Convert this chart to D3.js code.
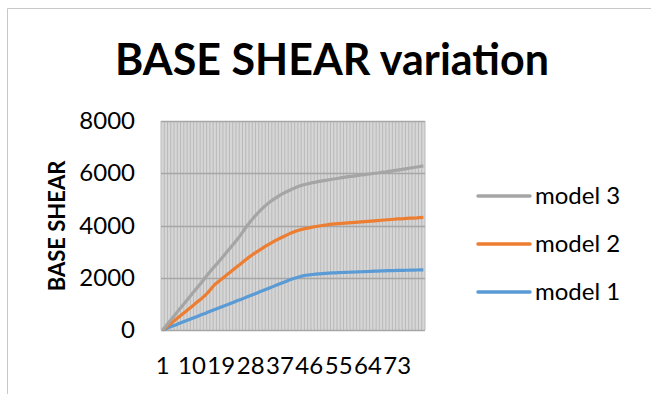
<!DOCTYPE html>
<html>
<head>
<meta charset="utf-8">
<script src="https://cdn.jsdelivr.net/npm/d3@7"></script>
<style>
  html, body { margin: 0; padding: 0; background: #fff; }
  svg { display: block; }
  text { font-family: Lato, "Open Sans", sans-serif; fill: #000; }
</style>
</head>
<body>
<svg id="chart" width="651" height="394"></svg>
<script>
// Step numbers along the x axis (1..81)
const categories = d3.range(1, 82);
const xTickLabels = [1, 10, 19, 28, 37, 46, 55, 64, 73];
const yTicks = [0, 2000, 4000, 6000, 8000];

const model1 = [0, 50, 100, 150, 195, 245, 295, 345, 390, 440,
  490, 540, 590, 635, 685, 735, 785, 830, 880, 930,
  975, 1025, 1075, 1125, 1170, 1220, 1270, 1320, 1370, 1420,
  1470, 1520, 1570, 1620, 1670, 1720, 1770, 1820, 1870, 1920,
  1960, 2000, 2040, 2070, 2095, 2110, 2125, 2140, 2150, 2160,
  2170, 2180, 2185, 2190, 2195, 2200, 2205, 2210, 2215, 2220,
  2225, 2230, 2235, 2240, 2245, 2250, 2255, 2260, 2265, 2270,
  2273, 2276, 2279, 2282, 2285, 2288, 2291, 2294, 2297, 2300, 2303];

const model2 = [0, 100, 200, 300, 400, 500, 600, 700, 800, 900,
  1010, 1110, 1210, 1320, 1450, 1600, 1740, 1840, 1940, 2040,
  2140, 2240, 2340, 2440, 2540, 2640, 2740, 2830, 2920, 3000,
  3080, 3160, 3240, 3310, 3380, 3450, 3510, 3570, 3630, 3690,
  3740, 3790, 3830, 3860, 3890, 3910, 3940, 3960, 3980, 4000,
  4020, 4040, 4050, 4060, 4070, 4080, 4090, 4100, 4110, 4120,
  4130, 4140, 4150, 4160, 4170, 4180, 4190, 4200, 4210, 4220,
  4230, 4240, 4250, 4255, 4260, 4270, 4280, 4285, 4290, 4300, 4310];

const model3 = [0, 150, 310, 460, 610, 770, 920, 1070, 1220, 1380,
  1530, 1680, 1830, 1990, 2150, 2300, 2440, 2580, 2730, 2880,
  3030, 3180, 3330, 3480, 3650, 3830, 4000, 4160, 4310, 4450,
  4580, 4700, 4810, 4910, 5000, 5080, 5160, 5230, 5290, 5350,
  5410, 5460, 5510, 5550, 5580, 5610, 5640, 5660, 5690, 5710,
  5730, 5750, 5770, 5790, 5810, 5830, 5850, 5870, 5880, 5900,
  5920, 5940, 5950, 5970, 5980, 6000, 6010, 6030, 6040, 6060,
  6080, 6100, 6120, 6140, 6160, 6180, 6200, 6220, 6240, 6260, 6280];

const seriesNames = ["model 1", "model 2", "model 3"];
const seriesColors = ["#5B9BD5", "#ED7D31", "#A5A5A5"];
const seriesData = [model1, model2, model3];

const svg = d3.select("#chart");

// chart frame
svg.append("path")
  .attr("d", "M7.5,394 V8.5 H651")
  .attr("fill", "none")
  .attr("stroke", "#c8c8c8")
  .attr("stroke-width", 1);

const plot = { left: 161, right: 425, top: 121, bottom: 330 };

const x = d3.scaleBand().domain(categories).range([plot.left, plot.right]).padding(0);
const y = d3.scaleLinear().domain([0, 8000]).range([plot.bottom, plot.top]);
const cx = d => x(d) + x.bandwidth() / 2;

// plot area background
svg.append("rect")
  .attr("x", plot.left).attr("y", plot.top)
  .attr("width", plot.right - plot.left).attr("height", plot.bottom - plot.top)
  .attr("fill", "#d6d6d6");

// vertical gridlines at category boundaries
const vBounds = categories.map(c => x(c)).concat([plot.right]);
svg.append("g").selectAll("line").data(vBounds).join("line")
  .attr("x1", d => d).attr("x2", d => d)
  .attr("y1", plot.top).attr("y2", plot.bottom)
  .attr("stroke", "#b9b9b9").attr("stroke-width", 1);

// horizontal gridlines
svg.append("g").selectAll("line").data(yTicks.filter(t => t > 0)).join("line")
  .attr("x1", plot.left).attr("x2", plot.right)
  .attr("y1", d => Math.round(y(d)) + 0.5).attr("y2", d => Math.round(y(d)) + 0.5)
  .attr("stroke", "#a6a6a6").attr("stroke-width", 1.5);

// category axis line
svg.append("line")
  .attr("x1", plot.left).attr("x2", plot.right)
  .attr("y1", plot.bottom + 0.5).attr("y2", plot.bottom + 0.5)
  .attr("stroke", "#a6a6a6").attr("stroke-width", 1.5);

// y axis labels
const yAxis = d3.axisLeft(y).tickValues(yTicks).tickFormat(d3.format("d"))
  .tickSize(0).tickPadding(26);
const gy = svg.append("g").attr("transform", `translate(${plot.left},0)`).call(yAxis);
gy.select(".domain").remove();
gy.selectAll("text").style("font-size", "24px").attr("fill", "#000")
  .style("font-family", "Lato, sans-serif");

// x axis labels
const xAxis = d3.axisBottom(x).tickValues(xTickLabels).tickSize(0).tickPadding(27);
const gx = svg.append("g").attr("transform", `translate(0,${plot.bottom})`).call(xAxis);
gx.select(".domain").remove();
gx.selectAll("text").style("font-size", "24px").attr("fill", "#000")
  .style("font-family", "Lato, sans-serif");

// series lines
const line = d3.line().x((d, i) => cx(categories[i])).y(d => y(d));
svg.append("g").selectAll("path").data(seriesData).join("path")
  .attr("d", d => line(d))
  .attr("fill", "none")
  .attr("stroke", (d, i) => seriesColors[i])
  .attr("stroke-width", 3.2)
  .attr("stroke-linejoin", "round");

// title
svg.append("text")
  .attr("x", 332).attr("y", 75)
  .attr("text-anchor", "middle")
  .style("font-size", "43px").style("font-weight", "bold")
  .text("BASE SHEAR variation");

// y axis title
svg.append("text")
  .attr("transform", "translate(65,226) rotate(-90)")
  .attr("text-anchor", "middle")
  .style("font-size", "22px").style("font-weight", "bold")
  .text("BASE SHEAR");

// legend (top entry is the last series)
const legendRows = [2, 1, 0];
const legendY = [196, 244, 292];
const lg = svg.append("g");
legendRows.forEach((s, r) => {
  lg.append("line")
    .attr("x1", 478).attr("x2", 530)
    .attr("y1", legendY[r]).attr("y2", legendY[r])
    .attr("stroke", seriesColors[s]).attr("stroke-width", 3.5)
    .attr("stroke-linecap", "round");
  lg.append("text")
    .attr("x", 535).attr("y", legendY[r])
    .attr("dy", "0.35em")
    .style("font-size", "24px")
    .text(seriesNames[s]);
});
</script>
</body>
</html>
